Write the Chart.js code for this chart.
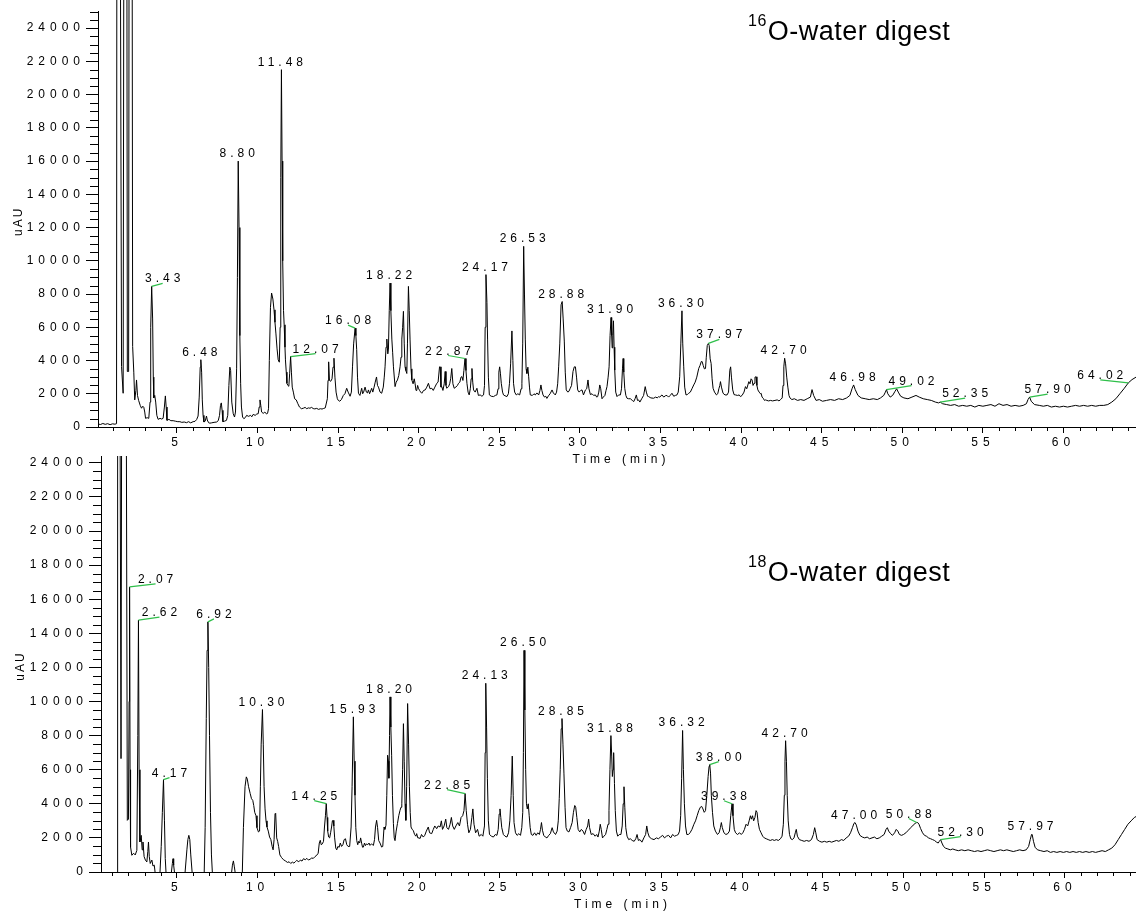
<!DOCTYPE html>
<html><head><meta charset="utf-8">
<script src="https://cdn.jsdelivr.net/npm/chart.js@4.4.1/dist/chart.umd.min.js"></script>
<style>
html,body{margin:0;padding:0;background:#fff;}
#wrap{position:relative;width:1136px;height:913px;overflow:hidden;background:#fff;}
canvas{position:absolute;left:0;}
#c1{top:0;}
#c2{top:440px;}
</style></head><body>
<div id="wrap"><canvas id="c1" width="1136" height="470"></canvas><canvas id="c2" width="1136" height="473"></canvas></div>
<script>
// ---- DATA: [time (min), signal (uAU)] ----
const topTrace = [
[0.10,180],[0.25,150],[0.40,210],[0.55,160],[0.70,200],[0.85,140],[1.00,190],[1.15,170],[1.25,200],
[1.29,60000],[1.40,60000],[1.56,3640],[1.66,2030],[1.75,60000],[1.86,60000],[1.92,3340],[2.00,3340],
[2.06,60000],[2.18,60000],[2.25,4850],[2.32,3300],[2.38,1630],[2.45,2200],[2.49,2830],[2.55,1900],
[2.62,1600],[2.72,1300],[2.80,1130],[2.88,1250],[2.94,1190],[3.00,900],[3.05,520],[3.15,560],[3.25,520],
[3.33,1500],[3.37,6000],[3.43,8460],[3.49,6500],[3.53,3000],[3.56,1750],[3.62,1900],[3.68,1500],[3.75,700],
[3.83,460],[3.95,520],[4.05,480],[4.14,520],[4.22,1200],[4.28,1870],[4.33,1200],[4.38,400],[4.50,460],
[4.62,380],[4.76,380],[4.90,350],[5.05,320],[5.18,320],[5.30,280],[5.45,300],[5.59,260],[5.72,320],
[5.85,250],[6.00,320],[6.12,340],[6.22,450],[6.31,660],[6.38,1800],[6.44,3600],[6.48,4050],[6.53,3300],
[6.57,1630],[6.62,700],[6.67,300],[6.75,350],[6.83,660],[6.88,420],[6.96,260],[7.04,230],[7.15,250],
[7.30,280],[7.46,300],[7.56,380],[7.64,700],[7.70,1300],[7.75,1450],[7.80,1000],[7.85,320],[7.95,350],
[8.07,400],[8.15,700],[8.22,2500],[8.28,3600],[8.33,3400],[8.40,1500],[8.49,800],[8.57,600],[8.63,900],
[8.70,3500],[8.75,9000],[8.80,16000],[8.85,12000],[8.90,5500],[8.95,2600],[9.00,1200],[9.07,600],
[9.15,500],[9.25,580],[9.32,700],[9.45,640],[9.55,700],[9.65,620],[9.73,760],[9.85,700],[9.95,780],
[10.04,800],[10.10,1200],[10.15,1630],[10.20,1300],[10.25,900],[10.35,820],[10.45,900],[10.56,780],
[10.62,820],[10.68,1100],[10.73,4000],[10.80,7200],[10.87,8060],[10.95,7700],[11.02,7050],[11.08,6300],
[11.14,5600],[11.21,4700],[11.28,4040],[11.35,3900],[11.40,6000],[11.44,15000],[11.48,21500],[11.52,16000],
[11.56,10000],[11.61,7000],[11.65,6150],[11.70,4800],[11.73,4040],[11.78,3300],[11.82,2630],[11.88,2500],
[11.94,2450],[11.99,3200],[12.05,4240],[12.10,3300],[12.15,2400],[12.22,2100],[12.30,1700],[12.40,1630],
[12.50,1400],[12.60,1200],[12.72,1100],[12.84,1130],[12.95,1180],[13.05,1100],[13.15,1150],[13.25,1130],
[13.35,1180],[13.45,1110],[13.55,1090],[13.67,1120],[13.78,1060],[13.90,1100],[14.00,1080],[14.08,1110],
[14.20,1150],[14.33,1700],[14.37,2800],[14.41,3920],[14.46,2800],[14.54,2750],[14.62,2900],[14.68,3600],
[14.74,4140],[14.80,3000],[14.87,2100],[14.95,1700],[15.01,1600],[15.10,1550],[15.20,1650],[15.32,1900],
[15.42,2000],[15.53,2330],[15.62,2100],[15.74,1850],[15.82,2100],[15.89,3620],[15.96,5000],[16.05,5950],
[16.10,5500],[16.15,4650],[16.20,3000],[16.26,2030],[16.35,1900],[16.46,2330],[16.52,2000],[16.58,2100],
[16.67,2400],[16.75,2100],[16.82,2050],[16.88,2230],[16.95,2000],[17.08,2330],[17.15,2100],[17.23,2400],
[17.30,2700],[17.38,3010],[17.44,2500],[17.50,2400],[17.60,2100],[17.70,2030],[17.80,2400],[17.86,3000],
[17.91,3620],[17.97,4800],[18.02,5290],[18.08,4400],[18.12,4690],[18.17,7000],[18.22,8660],[18.27,7000],
[18.33,5290],[18.38,4500],[18.43,3620],[18.53,2430],[18.60,2700],[18.68,2830],[18.76,3100],[18.84,3620],
[18.90,4200],[18.95,5290],[19.00,6000],[19.05,6960],[19.10,5000],[19.15,3620],[19.20,3400],[19.26,3220],
[19.30,5000],[19.36,8460],[19.41,7000],[19.46,5290],[19.52,3500],[19.57,2830],[19.65,2600],[19.72,2900],
[19.77,2630],[19.83,2200],[19.88,2230],[19.93,2500],[19.98,2330],[20.05,2200],[20.12,2100],[20.19,2030],
[20.30,2200],[20.40,2230],[20.50,2400],[20.60,2630],[20.70,2300],[20.81,2330],[20.90,2200],[21.00,2400],
[21.12,2630],[21.20,2700],[21.29,3620],[21.33,3620],[21.38,2400],[21.43,2430],[21.50,2200],[21.58,2600],
[21.64,3340],[21.69,2500],[21.74,2330],[21.80,2400],[21.85,2430],[21.92,2600],[21.98,2900],[22.05,3520],
[22.12,2600],[22.20,2330],[22.30,2400],[22.40,2500],[22.47,2630],[22.55,2700],[22.62,3000],[22.68,3030],
[22.74,2800],[22.80,3400],[22.87,4120],[22.93,3400],[22.99,2630],[23.06,2100],[23.13,1930],[23.20,2300],
[23.25,2900],[23.30,3520],[23.35,2700],[23.40,2230],[23.50,2100],[23.61,2330],[23.70,1900],[23.81,1930],
[23.92,1850],[24.02,1930],[24.08,2500],[24.12,6000],[24.17,9170],[24.23,7500],[24.27,5290],[24.32,3000],
[24.38,1930],[24.50,1850],[24.64,1830],[24.75,1900],[24.85,1930],[24.92,2300],[24.97,3300],[25.02,3620],
[25.07,3200],[25.12,2630],[25.20,2100],[25.26,1930],[25.35,1880],[25.47,1830],[25.56,2000],[25.63,2630],
[25.70,3800],[25.78,5780],[25.84,4000],[25.88,2630],[25.95,2100],[26.05,1930],[26.15,2000],[26.26,1930],
[26.35,2300],[26.40,2630],[26.45,5000],[26.51,10870],[26.56,8000],[26.61,5290],[26.66,3500],[26.71,3220],
[26.77,3600],[26.82,3020],[26.87,2400],[26.92,1930],[27.05,1900],[27.15,2000],[27.23,1930],[27.33,2050],
[27.44,1930],[27.52,2200],[27.58,2530],[27.64,2200],[27.71,1930],[27.80,1800],[27.88,1850],[27.95,1720],
[28.05,1880],[28.15,2000],[28.27,2230],[28.35,2050],[28.47,1930],[28.55,2100],[28.62,2600],[28.68,3620],
[28.75,5000],[28.83,7350],[28.90,7550],[28.96,6500],[29.03,5170],[29.09,3300],[29.15,2230],[29.25,2100],
[29.32,2150],[29.40,2330],[29.48,2500],[29.57,3340],[29.65,3620],[29.72,3620],[29.79,3000],[29.86,2230],
[29.95,2100],[30.05,2200],[30.13,2230],[30.22,1930],[30.34,2230],[30.42,2300],[30.50,2830],[30.56,2300],
[30.65,1950],[30.75,2000],[30.85,1900],[30.96,1930],[31.04,1800],[31.10,1830],[31.17,2100],[31.23,2530],
[31.29,2300],[31.37,1700],[31.45,1800],[31.55,1900],[31.62,2200],[31.68,2430],[31.75,3000],[31.81,3620],
[31.87,5500],[31.93,6590],[31.97,5500],[32.00,4760],[32.04,5500],[32.08,6390],[32.12,4800],[32.16,3420],
[32.22,2100],[32.30,1830],[32.40,1930],[32.51,1930],[32.58,2300],[32.64,3500],[32.68,4120],[32.72,3300],
[32.78,2330],[32.85,1900],[32.92,1730],[33.02,1700],[33.13,1700],[33.25,1600],[33.34,1530],[33.42,1700],
[33.50,1930],[33.57,1600],[33.64,1630],[33.72,1500],[33.85,1730],[33.95,1900],[34.05,2430],[34.12,2100],
[34.20,1850],[34.26,1830],[34.40,1750],[34.57,1730],[34.70,1800],[34.80,1750],[34.88,1830],[34.95,1800],
[35.09,1930],[35.20,1800],[35.30,1880],[35.40,1900],[35.50,1800],[35.60,1900],[35.71,2030],[35.82,1850],
[35.92,1900],[36.02,1930],[36.10,2100],[36.19,3020],[36.26,5000],[36.33,6990],[36.38,5000],[36.44,3620],
[36.50,2400],[36.58,1930],[36.66,1950],[36.75,2030],[36.85,2100],[36.95,2300],[37.06,2530],[37.15,2700],
[37.25,3000],[37.37,3520],[37.45,3700],[37.53,3940],[37.58,3940],[37.65,3700],[37.72,3500],[37.79,3520],
[37.84,4200],[37.90,4900],[37.97,5030],[38.02,4900],[38.08,4100],[38.14,3820],[38.20,2900],[38.26,2330],
[38.35,2100],[38.47,1930],[38.55,2000],[38.62,2300],[38.68,2500],[38.72,2730],[38.78,2400],[38.88,2030],
[39.00,1930],[39.13,1930],[39.22,2100],[39.30,3420],[39.35,3620],[39.40,3000],[39.48,2230],[39.56,1950],
[39.65,1930],[39.78,1900],[39.88,1930],[39.96,1830],[40.06,1900],[40.18,2100],[40.27,2430],[40.35,2300],
[40.42,2530],[40.48,2730],[40.55,2600],[40.62,2900],[40.68,2830],[40.74,2500],[40.80,2630],[40.86,3000],
[40.93,3020],[40.98,2500],[41.04,2230],[41.12,2100],[41.20,2000],[41.24,2030],[41.30,1800],[41.37,1730],
[41.45,1600],[41.52,1630],[41.60,1600],[41.70,1570],[41.83,1600],[41.95,1570],[42.10,1600],[42.24,1630],
[42.35,1570],[42.45,1650],[42.55,1750],[42.60,2500],[42.65,3620],[42.70,4140],[42.76,3800],[42.83,3000],
[42.90,2400],[42.97,1900],[43.03,1750],[43.15,1650],[43.30,1700],[43.50,1600],[43.70,1650],[43.90,1600],
[44.10,1700],[44.30,1800],[44.40,2250],[44.50,1900],[44.65,1600],[44.85,1650],[45.05,1550],[45.30,1600],
[45.55,1650],[45.80,1600],[46.05,1700],[46.30,1650],[46.55,1750],[46.75,1900],[46.88,2300],[46.98,2530],
[47.08,2250],[47.25,1900],[47.45,1750],[47.70,1700],[47.95,1650],[48.20,1700],[48.45,1650],[48.65,1750],
[48.85,1900],[48.95,2100],[49.02,2250],[49.10,2000],[49.25,1800],[49.40,1900],[49.55,2150],[49.65,2300],
[49.75,2100],[49.90,1850],[50.10,1750],[50.35,1700],[50.60,1800],[50.85,1900],[51.05,1800],[51.30,1700],
[51.55,1650],[51.80,1600],[52.05,1500],[52.25,1450],[52.35,1500],[52.50,1400],[52.75,1350],[53.00,1300],
[53.25,1350],[53.50,1250],[53.75,1300],[54.00,1250],[54.25,1300],[54.50,1200],[54.75,1300],[55.00,1250],
[55.25,1300],[55.50,1350],[55.75,1250],[56.00,1400],[56.25,1300],[56.50,1350],[56.75,1250],[57.00,1300],
[57.25,1250],[57.50,1300],[57.70,1400],[57.80,1650],[57.90,1800],[58.00,1550],[58.20,1350],[58.50,1300],
[58.75,1250],[59.00,1300],[59.25,1200],[59.50,1250],[59.75,1200],[60.00,1250],[60.25,1200],[60.50,1250],
[60.75,1300],[61.00,1250],[61.25,1300],[61.50,1250],[61.75,1300],[62.00,1250],[62.25,1300],[62.50,1300],
[62.75,1350],[63.00,1500],[63.25,1700],[63.50,2000],[63.75,2300],[64.02,2650],[64.25,2850],[64.50,3000]
];

const bottomTrace = [
[0.30,-300],[1.30,-300],[1.33,60000],[1.38,60000],[1.54,6650],[1.64,60000],[1.78,60000],[1.93,3030],
[2.00,3100],[2.04,10000],[2.07,16720],[2.10,6000],[2.13,1470],[2.21,980],[2.32,1100],[2.42,1000],
[2.52,1270],[2.58,8000],[2.62,14770],[2.66,6000],[2.71,1760],[2.79,2150],[2.85,1300],[2.90,1760],
[2.97,900],[3.05,700],[3.14,590],[3.20,1200],[3.24,1760],[3.29,900],[3.35,500],[3.45,700],[3.52,350],
[3.60,400],[3.66,-100],[3.80,-100],[3.95,-100],[4.03,1500],[4.10,3500],[4.17,5420],[4.23,3000],
[4.28,800],[4.33,-100],[4.50,-100],[4.65,-100],[4.72,500],[4.76,780],[4.80,400],[4.86,-100],[5.30,-100],
[5.50,-100],[5.62,1300],[5.68,1900],[5.74,2150],[5.80,1900],[5.86,1000],[5.95,-100],[6.40,-100],
[6.69,-100],[6.75,2600],[6.82,9000],[6.87,13000],[6.92,14670],[6.97,12000],[7.02,8000],[7.08,3500],
[7.14,1000],[7.20,-100],[7.60,-100],[8.00,-100],[8.38,-100],[8.44,400],[8.50,650],[8.56,300],[8.62,-100],
[9.00,-100],[9.05,-100],[9.12,2600],[9.22,5000],[9.30,5580],[9.36,5450],[9.44,5000],[9.54,4600],
[9.62,4300],[9.70,4200],[9.76,3900],[9.82,3500],[9.90,3300],[9.96,2600],[10.05,2350],[10.12,2400],
[10.17,5000],[10.22,7500],[10.30,9530],[10.35,7500],[10.40,5000],[10.46,3700],[10.52,3000],[10.58,2640],
[10.66,2400],[10.74,2050],[10.82,1900],[10.90,1500],[10.96,1300],[11.02,1900],[11.08,3430],[11.12,3400],
[11.18,2000],[11.24,1800],[11.30,1500],[11.38,1000],[11.48,850],[11.60,720],[11.72,650],[11.85,560],
[11.95,600],[12.05,500],[12.15,580],[12.25,520],[12.35,620],[12.42,680],[12.55,600],[12.65,700],
[12.75,640],[12.84,780],[12.95,720],[13.05,800],[13.15,700],[13.25,750],[13.35,820],[13.45,800],
[13.55,900],[13.66,980],[13.75,1100],[13.82,1700],[13.88,1860],[13.94,1600],[14.01,1650],[14.08,1800],
[14.14,2640],[14.20,3300],[14.25,4010],[14.30,3200],[14.34,2400],[14.40,2050],[14.46,2000],[14.52,2300],
[14.58,2640],[14.63,3000],[14.67,3030],[14.72,2700],[14.77,2000],[14.84,1400],[14.90,1300],[14.97,1500],
[15.05,1450],[15.12,1700],[15.20,1500],[15.28,1600],[15.36,1900],[15.44,1950],[15.52,1600],[15.60,1500],
[15.70,1500],[15.79,2640],[15.85,5000],[15.93,9100],[15.98,6500],[16.03,4500],[16.08,2600],[16.14,1840],
[16.20,1600],[16.26,1800],[16.32,1700],[16.38,2000],[16.45,1650],[16.50,1450],[16.55,1460],[16.62,1700],
[16.68,1550],[16.75,1650],[16.82,1600],[16.90,1700],[16.96,1560],[17.05,1650],[17.12,1600],[17.17,1560],
[17.24,1900],[17.30,2640],[17.37,3030],[17.43,2600],[17.50,1840],[17.58,1700],[17.68,1460],[17.75,1500],
[17.83,2640],[17.88,2500],[17.95,2740],[18.00,4500],[18.05,6850],[18.10,6500],[18.13,5500],[18.17,8000],
[18.20,10270],[18.25,8500],[18.30,6850],[18.35,4500],[18.41,2840],[18.46,2000],[18.51,1840],[18.58,2400],
[18.66,2840],[18.74,3300],[18.82,3620],[18.88,3800],[18.93,4000],[18.98,6000],[19.03,8700],[19.08,6500],
[19.13,4000],[19.18,3030],[19.23,5000],[19.29,9880],[19.35,7500],[19.40,5000],[19.45,3500],[19.50,2640],
[19.57,2500],[19.64,2440],[19.72,2200],[19.80,2100],[19.85,2250],[19.92,2000],[20.00,2000],[20.06,1960],
[20.15,2200],[20.26,2050],[20.35,2150],[20.45,2400],[20.57,2640],[20.65,2300],[20.78,2250],[20.88,2500],
[20.97,2700],[21.09,2540],[21.18,2700],[21.30,2640],[21.38,3000],[21.45,2500],[21.55,2700],[21.65,3100],
[21.72,2600],[21.82,2500],[21.92,2800],[22.00,3200],[22.08,2700],[22.18,2500],[22.28,2700],[22.40,2900],
[22.50,2700],[22.60,3200],[22.70,3300],[22.78,3600],[22.85,4600],[22.92,3600],[23.00,2800],[23.08,2300],
[23.18,2500],[23.27,3200],[23.33,3700],[23.40,2800],[23.50,2300],[23.62,2500],[23.72,2100],[23.85,2200],
[23.95,2100],[24.05,2700],[24.09,7000],[24.13,11070],[24.18,8500],[24.23,5500],[24.29,3000],[24.36,2200],
[24.48,2100],[24.60,2050],[24.72,2200],[24.82,2150],[24.90,2500],[24.96,3400],[25.01,3700],[25.06,3200],
[25.12,2600],[25.22,2200],[25.32,2100],[25.44,2050],[25.54,2300],[25.62,3000],[25.70,4500],[25.77,6800],
[25.83,4500],[25.88,2900],[25.97,2300],[26.07,2150],[26.18,2250],[26.28,2150],[26.36,2600],[26.42,3500],
[26.46,7000],[26.50,13000],[26.55,9500],[26.60,6000],[26.65,4000],[26.70,3700],[26.76,4000],[26.82,3300],
[26.88,2600],[26.95,2200],[27.05,2150],[27.15,2300],[27.25,2150],[27.35,2300],[27.45,2200],[27.52,2500],
[27.58,2900],[27.64,2450],[27.72,2150],[27.82,2050],[27.92,2000],[28.03,2150],[28.13,2250],[28.24,2600],
[28.32,2350],[28.45,2200],[28.55,2400],[28.62,3000],[28.68,4300],[28.74,6000],[28.80,8400],[28.85,9000],
[28.91,7500],[28.97,5800],[29.04,3800],[29.10,2600],[29.18,2400],[29.28,2350],[29.38,2600],[29.48,2900],
[29.56,3500],[29.64,3900],[29.70,3800],[29.77,3200],[29.85,2500],[29.95,2350],[30.05,2500],[30.15,2400],
[30.25,2200],[30.35,2500],[30.44,2700],[30.50,3100],[30.56,2600],[30.66,2200],[30.78,2250],[30.90,2100],
[31.00,2200],[31.08,2050],[31.16,2400],[31.22,2800],[31.28,2500],[31.36,2000],[31.45,2100],[31.55,2200],
[31.63,2500],[31.70,2800],[31.76,3600],[31.82,6000],[31.88,8000],[31.93,6800],[31.97,5600],[32.01,6000],
[32.05,7000],[32.10,5200],[32.15,3600],[32.22,2400],[32.30,2100],[32.40,2200],[32.50,2200],[32.58,2700],
[32.64,4000],[32.69,5000],[32.74,3800],[32.80,2600],[32.88,2100],[32.98,1900],[33.08,1950],[33.20,1850],
[33.32,1800],[33.42,1950],[33.50,2200],[33.58,1850],[33.68,1900],[33.80,1750],[33.92,2000],[34.03,2200],
[34.10,2700],[34.17,2300],[34.26,2050],[34.40,1950],[34.55,1900],[34.70,2000],[34.82,1950],[34.95,2050],
[35.08,2150],[35.20,2000],[35.32,2100],[35.45,2150],[35.58,2000],[35.70,2200],[35.82,2100],[35.95,2150],
[36.05,2200],[36.13,2400],[36.20,3300],[36.26,5500],[36.32,8300],[36.37,6000],[36.43,4000],[36.50,2700],
[36.58,2200],[36.68,2200],[36.78,2300],[36.90,2500],[37.02,2800],[37.12,3000],[37.22,3300],[37.32,3600],
[37.42,3800],[37.50,3850],[37.58,3700],[37.66,3500],[37.74,3600],[37.82,4500],[37.90,5600],[37.96,6200],
[38.00,6300],[38.05,5800],[38.10,4500],[38.17,3500],[38.25,2700],[38.35,2400],[38.48,2200],[38.58,2300],
[38.66,2600],[38.72,2900],[38.78,2600],[38.88,2300],[39.00,2200],[39.12,2250],[39.22,2400],[39.30,3300],
[39.38,4000],[39.44,3300],[39.52,2500],[39.60,2300],[39.72,2200],[39.85,2300],[39.95,2200],[40.05,2300],
[40.15,2500],[40.25,2800],[40.35,2700],[40.44,3000],[40.52,3300],[40.58,3100],[40.65,3300],[40.72,3000],
[40.80,3200],[40.87,3600],[40.93,3500],[41.00,2900],[41.08,2500],[41.18,2300],[41.28,2100],[41.38,2000],
[41.50,1950],[41.62,1900],[41.75,1850],[41.88,1900],[42.00,1850],[42.12,1900],[42.25,1850],[42.38,1950],
[42.48,2100],[42.56,2800],[42.62,4500],[42.66,6500],[42.70,7700],[42.75,6500],[42.80,4500],[42.86,3000],
[42.94,2200],[43.02,1950],[43.12,1900],[43.22,2000],[43.30,2300],[43.36,2500],[43.43,2100],[43.55,1900],
[43.70,1850],[43.85,1800],[44.00,1850],[44.15,1800],[44.30,1900],[44.42,2200],[44.50,2600],[44.57,2300],
[44.65,1900],[44.80,1800],[44.95,1750],[45.10,1800],[45.25,1750],[45.40,1800],[45.55,1750],[45.70,1800],
[45.85,1850],[46.00,1800],[46.15,1900],[46.30,1850],[46.45,2000],[46.60,2100],[46.72,2300],[46.84,2600],
[46.93,2850],[47.00,2900],[47.08,2750],[47.18,2400],[47.30,2150],[47.45,2050],[47.60,2000],[47.75,2050],
[47.90,1950],[48.05,2000],[48.20,2050],[48.35,1950],[48.50,2000],[48.65,2100],[48.80,2200],[48.92,2500],
[49.00,2600],[49.08,2400],[49.20,2250],[49.32,2150],[49.45,2300],[49.55,2500],[49.65,2400],[49.75,2200],
[49.88,2150],[50.00,2200],[50.15,2300],[50.30,2450],[50.45,2600],[50.60,2750],[50.72,2850],[50.82,2900],
[50.88,2900],[50.96,2800],[51.06,2550],[51.18,2300],[51.30,2150],[51.42,2100],[51.55,2000],[51.68,1950],
[51.80,1900],[51.92,1850],[52.05,1750],[52.15,1700],[52.22,1800],[52.30,1900],[52.38,1700],[52.48,1500],
[52.60,1400],[52.75,1350],[52.90,1300],[53.05,1350],[53.20,1300],[53.40,1250],[53.60,1300],[53.80,1250],
[54.00,1300],[54.20,1250],[54.40,1200],[54.60,1250],[54.80,1200],[55.00,1250],[55.20,1300],[55.40,1250],
[55.60,1200],[55.80,1250],[56.00,1300],[56.20,1250],[56.40,1300],[56.60,1250],[56.80,1200],[57.00,1250],
[57.20,1300],[57.40,1250],[57.60,1300],[57.75,1500],[57.85,1900],[57.93,2200],[57.97,2200],[58.05,1800],
[58.15,1450],[58.30,1300],[58.50,1250],[58.70,1200],[58.90,1250],[59.10,1150],[59.30,1200],[59.50,1150],
[59.70,1200],[59.90,1150],[60.10,1200],[60.30,1150],[60.50,1200],[60.70,1150],[60.90,1200],[61.10,1150],
[61.30,1200],[61.50,1150],[61.70,1200],[61.90,1150],[62.10,1200],[62.30,1250],[62.50,1200],[62.70,1300],
[62.90,1400],[63.10,1600],[63.30,1900],[63.50,2200],[63.70,2500],[63.90,2800],[64.10,3000],[64.30,3200],
[64.40,3250]
];

// peak retention-time labels
const topPeakLabels = ['3.43','6.48','8.80','11.48','12.07','16.08','18.22','22.87','24.17','26.53','28.88','31.90','36.30','37.97','42.70','46.98','49.02','52.35','57.90','64.02'];
const bottomPeakLabels = ['2.07','2.62','4.17','6.92','10.30','14.25','15.93','18.20','22.85','24.13','26.50','28.85','31.88','36.32','38.00','39.38','42.70','47.00','50.88','52.30','57.97'];
// axis tick values
const yTickValues = [0,2000,4000,6000,8000,10000,12000,14000,16000,18000,20000,22000,24000];
const xTickValues = [5,10,15,20,25,30,35,40,45,50,55,60];
const yMinorStep = 500, xMinorStep = 1;
const sampleNames = [['16', 'O-water digest'], ['18', 'O-water digest']];

// ---- layout / style (not data) ----
const FONT = '"Liberation Sans", Arial, Helvetica, sans-serif';
const GREEN = '#2fbf4a';
const topLeaders = {'3.43':[11,-3],'12.07':[25,-3],'16.08':[-7,-3],'22.87':[-17,-3],'37.97':[11,-4],'49.02':[25,-4],'52.35':[25,-4],'57.90':[18,-3],'64.02':[-28,-3]};
const bottomLeaders = {'2.07':[26,-3],'2.62':[21,-3],'4.17':[6,-2],'6.92':[6,-3],'14.25':[-12,-3],'22.85':[-18,-4],'38.00':[9,-3],'39.38':[-8,-3],'50.88':[-8,-4],'52.30':[20,-3]};

function chromPlugin(cfg) {
  return {
    id: 'chrom',
    beforeDraw(chart) { chart.ctx.letterSpacing = '5px'; },
    afterDraw(chart) {
      const ctx = chart.ctx, a = chart.chartArea, xs = chart.scales.x, ys = chart.scales.y;
      const pts = chart.data.datasets[0].data;
      ctx.save();
      // minor ticks
      ctx.strokeStyle = '#000'; ctx.lineWidth = 1;
      ctx.beginPath();
      for (let t = Math.ceil(xs.min); t <= xs.max; t += xMinorStep) {
        if (xTickValues.includes(t)) continue;
        const px = Math.round(xs.getPixelForValue(t)) + 0.5;
        ctx.moveTo(px, a.bottom); ctx.lineTo(px, a.bottom + 4);
      }
      for (let v = yMinorStep; v <= ys.max; v += yMinorStep) {
        if (yTickValues.includes(v)) continue;
        const py = Math.round(ys.getPixelForValue(v)) + 0.5;
        ctx.moveTo(a.left - 8, py); ctx.lineTo(a.left, py);
      }
      ctx.stroke();
      // axis titles
      ctx.fillStyle = '#000';
      ctx.font = '12px ' + FONT;
      ctx.textAlign = 'center'; ctx.textBaseline = 'middle';
      ctx.letterSpacing = '4px';
      ctx.fillText('Time (min)', (a.left + a.right) / 2 + 4, a.bottom + 33);
      ctx.save();
      ctx.translate(cfg.yTitleX, (a.top + a.bottom) / 2 + 2);
      ctx.rotate(-Math.PI / 2);
      ctx.letterSpacing = '2px';
      ctx.fillText('uAU', 0, 0);
      ctx.restore();
      // peak labels
      ctx.letterSpacing = '4px';
      ctx.textBaseline = 'alphabetic';
      cfg.labels.forEach(lbl => {
        const t = parseFloat(lbl);
        let best = null;
        for (const p of pts) {
          if (Math.abs(p.x - t) <= 0.1001 && (!best || p.y > best.y)) best = p;
        }
        if (!best) return;
        const ax = xs.getPixelForValue(best.x), ay = ys.getPixelForValue(best.y);
        const lead = cfg.leaders[lbl];
        if (lead) {
          const ex = ax + lead[0], ey = ay + lead[1];
          ctx.strokeStyle = GREEN; ctx.lineWidth = 1.2;
          ctx.beginPath(); ctx.moveTo(ax, ay); ctx.lineTo(ex, ey); ctx.stroke();
          ctx.fillText(lbl, ex + 2, ey - 1);
        } else {
          ctx.fillText(lbl, ax + 1, ay - 4);
        }
      });
      // sample title
      ctx.letterSpacing = '0.5px';
      ctx.textAlign = 'left'; ctx.textBaseline = 'alphabetic';
      ctx.font = '16px ' + FONT;
      ctx.fillText(cfg.name[0], cfg.titleX, cfg.supBase);
      const w = ctx.measureText(cfg.name[0]).width;
      ctx.font = '27px ' + FONT;
      ctx.fillText(cfg.name[1], cfg.titleX + w + 1, cfg.titleBase);
      ctx.restore();
    }
  };
}

function makeChart(id, trace, o) {
  const points = trace.map(p => ({x: p[0], y: p[1]}));
  const tickFont = {family: FONT, size: 12};
  return new Chart(document.getElementById(id), {
    type: 'line',
    data: {datasets: [{
      data: points, borderColor: '#000', borderWidth: 1, pointRadius: 0, pointHoverRadius: 0,
      tension: 0, fill: false, parsing: false, normalized: true,
      clip: {left: 0, top: o.clipTop, right: 0, bottom: 0}
    }]},
    options: {
      responsive: false, animation: false, devicePixelRatio: 1, events: [],
      layout: {padding: {top: o.padTop, left: 0, right: 0, bottom: 0}},
      plugins: {legend: {display: false}, tooltip: {enabled: false}, title: {display: false}},
      scales: {
        x: {
          type: 'linear', position: 'bottom', min: o.xMin, max: o.xMax,
          afterFit: s => { s.height = o.xAxisH; },
          afterBuildTicks: s => { s.ticks = xTickValues.map(v => ({value: v})); },
          border: {display: true, color: '#000', width: 1},
          grid: {display: true, drawOnChartArea: false, drawTicks: true, tickLength: 6, color: '#000', tickColor: '#000', tickWidth: 1},
          ticks: {autoSkip: false, maxRotation: 0, minRotation: 0, padding: 2, color: '#000', font: tickFont, callback: v => String(v)}
        },
        y: {
          type: 'linear', position: 'left', min: 0, max: o.yMax,
          afterFit: s => { s.width = o.yAxisW; },
          afterBuildTicks: s => { s.ticks = yTickValues.map(v => ({value: v})); },
          border: {display: true, color: '#000', width: 1},
          grid: {display: true, drawOnChartArea: false, drawTicks: true, tickLength: 12, color: '#000', tickColor: '#000', tickWidth: 1},
          ticks: {autoSkip: false, padding: 1, color: '#000', font: tickFont, callback: v => String(v)}
        }
      }
    },
    plugins: [chromPlugin(o.plug)]
  });
}

makeChart('c1', topTrace, {
  xMin: 0.1, xMax: 64.5, yMax: 25000, padTop: 11.5, xAxisH: 43, yAxisW: 98, clipTop: 12,
  plug: {labels: topPeakLabels, leaders: topLeaders, yTitleX: 19, name: sampleNames[0], titleX: 748, supBase: 26, titleBase: 40}
});
makeChart('c2', bottomTrace, {
  xMin: 0.3, xMax: 64.4, yMax: 24400, padTop: 16, xAxisH: 41, yAxisW: 101, clipTop: 0,
  plug: {labels: bottomPeakLabels, leaders: bottomLeaders, yTitleX: 21, name: sampleNames[1], titleX: 748, supBase: 127, titleBase: 141}
});
</script>
</body></html>
